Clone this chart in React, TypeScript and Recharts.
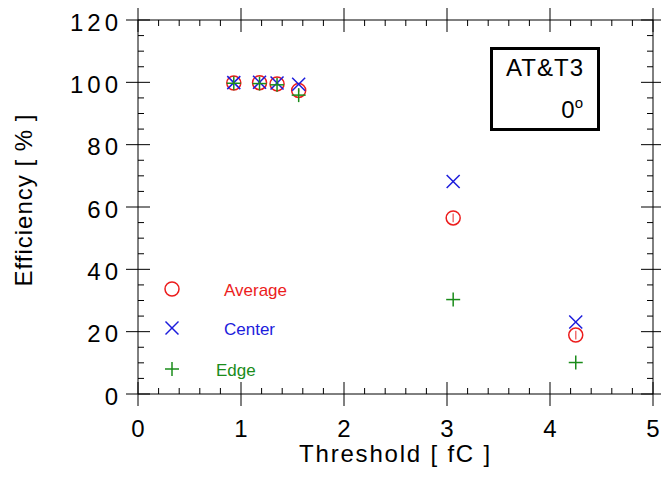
import React from 'react';
import { ScatterChart, Scatter, XAxis, YAxis, Legend, ErrorBar, Label } from 'recharts';

const thresholds = [0.93, 1.18, 1.35, 1.56, 3.06, 4.25];
const average = [99.8, 99.9, 99.5, 97.4, 56.5, 18.9];
const averageErr = [0.3, 0.3, 0.3, 0.4, 1.4, 1.4];
const center = [99.9, 100, 99.8, 99.4, 68.2, 23.1];
const edge = [99.7, 99.6, 99.2, 95.9, 30.3, 10.1];

const xTicks = [0, 0.2, 0.4, 0.6, 0.8, 1, 1.2, 1.4, 1.6, 1.8, 2, 2.2, 2.4, 2.6, 2.8, 3, 3.2, 3.4, 3.6, 3.8, 4, 4.2, 4.4, 4.6, 4.8, 5];
const yTicks = [0, 5, 10, 15, 20, 25, 30, 35, 40, 45, 50, 55, 60, 65, 70, 75, 80, 85, 90, 95, 100, 105, 110, 115, 120];

const RED = '#ec1c1c';
const BLUE = '#1c1cdc';
const GREEN = '#1a8c1a';
const FONT = '"Liberation Sans", Arial, sans-serif';

const avgData = thresholds.map((t, i) => ({ t, v: average[i], err: averageErr[i] }));
const centerData = thresholds.map((t, i) => ({ t, v: center[i] }));
const edgeData = thresholds.map((t, i) => ({ t, v: edge[i] }));

const Circle = ({ cx, cy }: any) => <circle cx={cx} cy={cy} r={7} fill="none" stroke={RED} strokeWidth={1.5} />;
const Cross = ({ cx, cy }: any) => (
  <g stroke={BLUE} strokeWidth={1.5}>
    <line x1={cx - 6.5} y1={cy - 6.5} x2={cx + 6.5} y2={cy + 6.5} />
    <line x1={cx - 6.5} y1={cy + 6.5} x2={cx + 6.5} y2={cy - 6.5} />
  </g>
);
const Plus = ({ cx, cy }: any) => (
  <g stroke={GREEN} strokeWidth={1.5}>
    <line x1={cx - 7} y1={cy} x2={cx + 7} y2={cy} />
    <line x1={cx} y1={cy - 7} x2={cx} y2={cy + 7} />
  </g>
);
const Nothing = () => <g />;

const tickText = { fontFamily: FONT, fontSize: 24, letterSpacing: 4, fill: '#000' };

const LeftTick = ({ x, y, payload }: any) => {
  const major = payload.value % 20 === 0;
  return (
    <g>
      {major ? <line x1={x - 12} x2={x + 12} y1={y} y2={y} stroke="#000" /> : <line x1={x} x2={x + 6} y1={y} y2={y} stroke="#000" />}
      {major && (
        <text x={x - 16} y={y + 2} textAnchor="end" dominantBaseline="central" style={tickText}>
          {payload.value}
        </text>
      )}
    </g>
  );
};

const RightTick = ({ x, y, payload }: any) => {
  const major = payload.value % 20 === 0;
  return major ? <line x1={x - 12} x2={x + 12} y1={y} y2={y} stroke="#000" /> : <line x1={x - 6} x2={x} y1={y} y2={y} stroke="#000" />;
};

const BottomTick = ({ x, y, payload }: any) => {
  const major = Number.isInteger(payload.value);
  return (
    <g>
      {major ? <line x1={x} x2={x} y1={y - 12} y2={y + 12} stroke="#000" /> : <line x1={x} x2={x} y1={y - 6} y2={y} stroke="#000" />}
      {major && (
        <text x={x} y={y + 34} textAnchor="middle" dominantBaseline="central" style={{ ...tickText, letterSpacing: 0 }}>
          {payload.value}
        </text>
      )}
    </g>
  );
};

const TopTick = ({ x, y, payload }: any) => {
  const major = Number.isInteger(payload.value);
  return major ? <line x1={x} x2={x} y1={y - 12} y2={y + 12} stroke="#000" /> : <line x1={x} x2={x} y1={y} y2={y + 6} stroke="#000" />;
};

const legendRows = [
  { name: 'Average', color: RED, Shape: Circle, textX: 64 },
  { name: 'Center', color: BLUE, Shape: Cross, textX: 64 },
  { name: 'Edge', color: GREEN, Shape: Plus, textX: 56 },
];

const renderLegend = () => (
  <svg width={150} height={104}>
    {legendRows.map((r, i) => {
      const cy = [11, 50, 91][i];
      return (
        <g key={r.name}>
          <r.Shape cx={12} cy={cy} />
          <text x={r.textX} y={cy + 1} dominantBaseline="central" style={{ fontFamily: FONT, fontSize: 17, fill: r.color }}>
            {r.name}
          </text>
        </g>
      );
    })}
  </svg>
);

export default function App() {
  return (
    <div style={{ position: 'absolute', left: 0, top: 0, width: 661, height: 477, background: '#fff' }}>
      <ScatterChart width={661} height={477} margin={{ top: 0, right: 0, bottom: 0, left: 0 }}>
        <XAxis
          xAxisId="bottom"
          dataKey="t"
          type="number"
          domain={[0, 5]}
          ticks={xTicks}
          interval={0}
          height={83}
          tickSize={0}
          tickMargin={0}
          tickLine={false}
          axisLine={{ stroke: '#000' }}
          tick={<BottomTick />}
        >
          <Label
            content={({ viewBox }: any) => (
              <text
                x={viewBox.x + viewBox.width / 2}
                y={viewBox.y + 68}
                textAnchor="middle"
                style={{ fontFamily: FONT, fontSize: 24, letterSpacing: 1.8, fill: '#000' }}
              >
                Threshold [  fC  ]
              </text>
            )}
          />
        </XAxis>
        <XAxis
          xAxisId="top"
          orientation="top"
          dataKey="t"
          type="number"
          domain={[0, 5]}
          ticks={xTicks}
          interval={0}
          height={20}
          tickSize={0}
          tickMargin={0}
          tickLine={false}
          axisLine={{ stroke: '#000' }}
          tick={<TopTick />}
        />
        <YAxis
          yAxisId="left"
          dataKey="v"
          type="number"
          domain={[0, 120]}
          ticks={yTicks}
          interval={0}
          width={138}
          tickSize={0}
          tickMargin={0}
          tickLine={false}
          axisLine={{ stroke: '#000' }}
          tick={<LeftTick />}
        >
          <Label
            content={({ viewBox }: any) => {
              const x = 32;
              const y = viewBox.y + viewBox.height / 2 - 7;
              return (
                <text
                  x={x}
                  y={y}
                  textAnchor="middle"
                  transform={`rotate(-90, ${x}, ${y})`}
                  style={{ fontFamily: FONT, fontSize: 24, letterSpacing: 1, fill: '#000' }}
                >
                  Efficiency [ % ]
                </text>
              );
            }}
          />
        </YAxis>
        <YAxis
          yAxisId="right"
          orientation="right"
          dataKey="v"
          type="number"
          domain={[0, 120]}
          ticks={yTicks}
          interval={0}
          width={8}
          tickSize={0}
          tickMargin={0}
          tickLine={false}
          axisLine={{ stroke: '#000' }}
          tick={<RightTick />}
        />
        <Scatter xAxisId="top" yAxisId="right" data={avgData} shape={<Nothing />} isAnimationActive={false} legendType="none" />
        <Scatter name="Average" xAxisId="bottom" yAxisId="left" data={avgData} shape={<Circle />} isAnimationActive={false}>
          <ErrorBar dataKey="err" direction="y" width={0} stroke="#f07070" strokeWidth={1.5} isAnimationActive={false} />
        </Scatter>
        <Scatter name="Center" xAxisId="bottom" yAxisId="left" data={centerData} shape={<Cross />} isAnimationActive={false} />
        <Scatter name="Edge" xAxisId="bottom" yAxisId="left" data={edgeData} shape={<Plus />} isAnimationActive={false} />
        <Legend
          layout="vertical"
          align="center"
          verticalAlign="middle"
          content={renderLegend}
          wrapperStyle={{ position: 'absolute', left: 160, top: 278, width: 150, height: 104 }}
        />
      </ScatterChart>
      <svg style={{ position: 'absolute', left: 490, top: 47 }} width={111} height={85}>
        <rect x={1.5} y={1.5} width={107} height={81} fill="#fff" stroke="#000" strokeWidth={3} />
        <text x={94} y={29} textAnchor="end" style={{ fontFamily: FONT, fontSize: 24, letterSpacing: 1, fill: '#000' }}>
          AT&amp;T3
        </text>
        <text x={93} y={71} textAnchor="end" style={{ fontFamily: FONT, fontSize: 24, fill: '#000' }}>
          0<tspan dy={-10} fontSize={15}>o</tspan>
        </text>
      </svg>
    </div>
  );
}
